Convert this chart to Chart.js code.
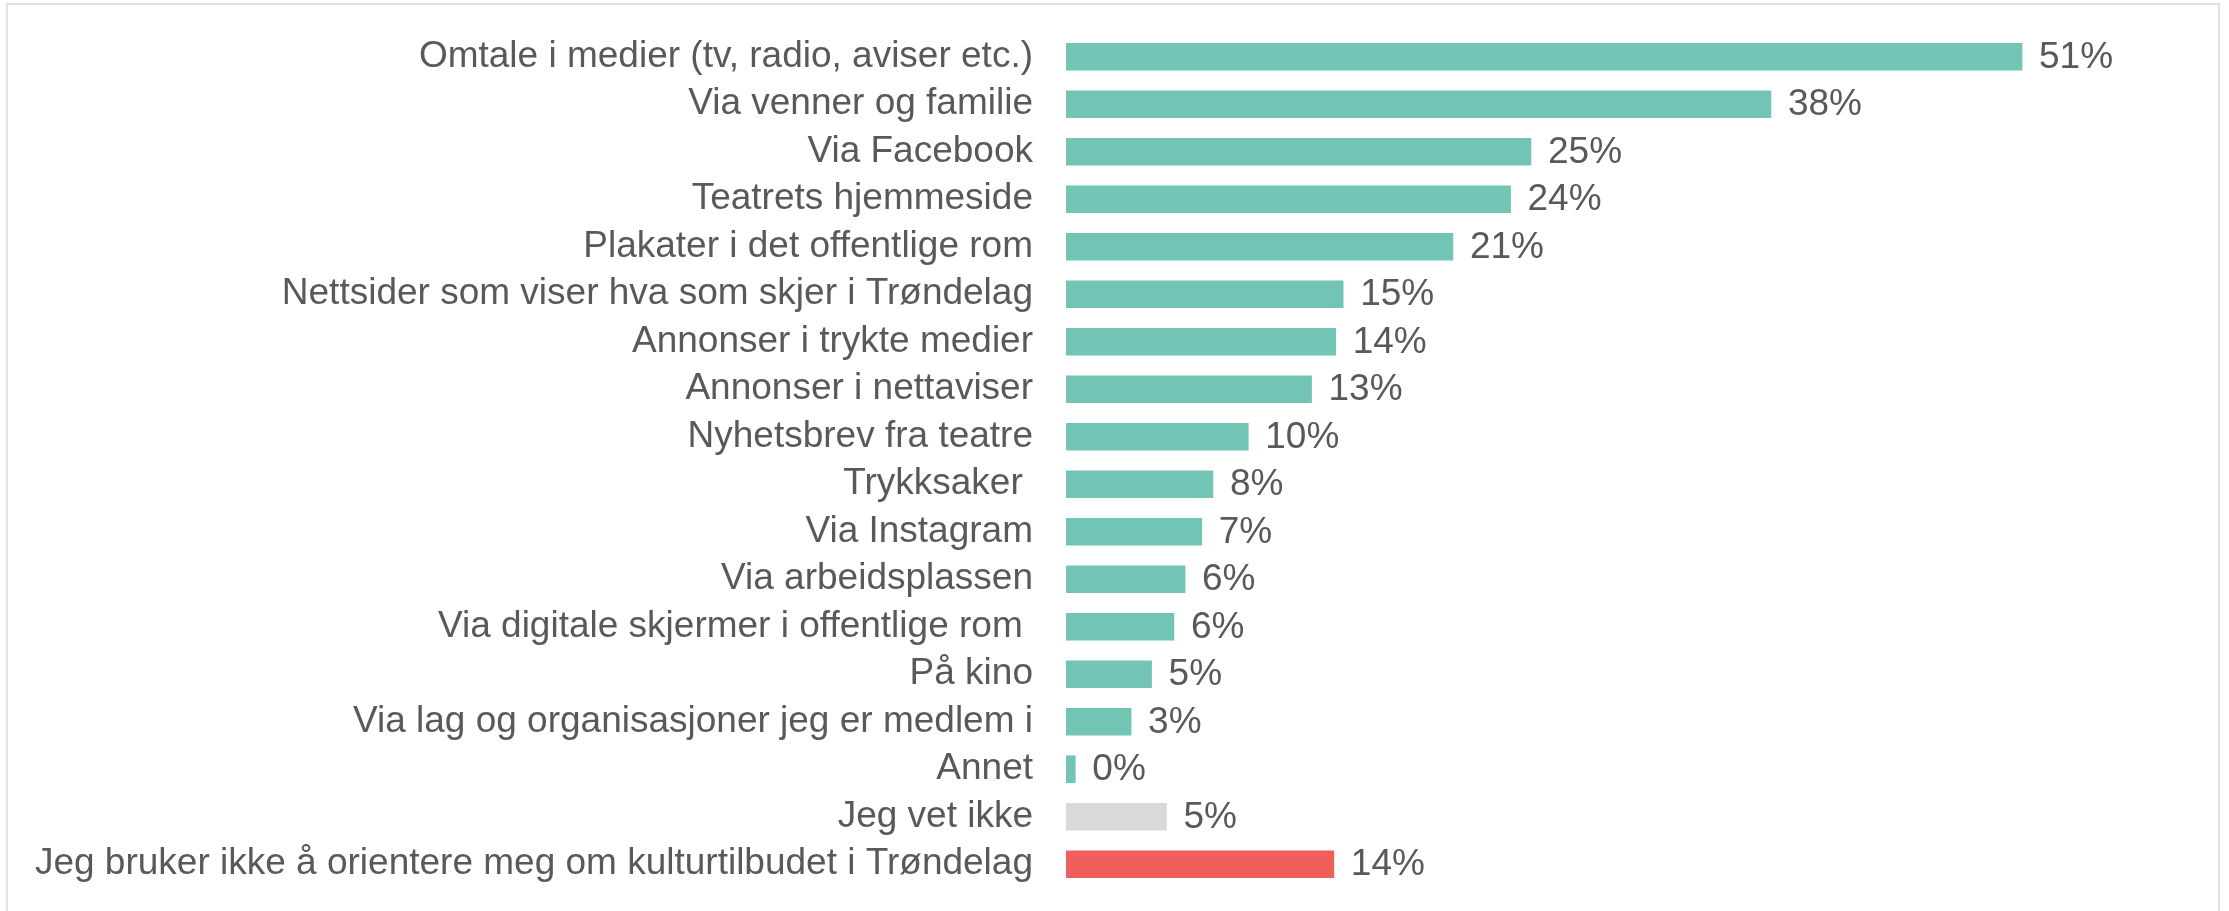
<!DOCTYPE html>
<html>
<head>
<meta charset="utf-8">
<script src="https://cdn.jsdelivr.net/npm/chart.js@4"></script>
<style>
  html, body { margin: 0; padding: 0; background: #fff; }
  #wrap { position: relative; width: 2229px; height: 911px; overflow: hidden; }
  #frame { position: absolute; left: 6px; top: 3px; width: 2214px; height: 1000px; border: 2px solid #e2e2e2; box-sizing: border-box; }
  canvas { position: absolute; left: 0; top: 0; }
</style>
</head>
<body>
<div id="wrap">
  <div id="frame"></div>
  <canvas id="chart" width="2229" height="911"></canvas>
</div>
<script>
const categories = [
  "Omtale i medier (tv, radio, aviser etc.)",
  "Via venner og familie",
  "Via Facebook",
  "Teatrets hjemmeside",
  "Plakater i det offentlige rom",
  "Nettsider som viser hva som skjer i Trøndelag",
  "Annonser i trykte medier",
  "Annonser i nettaviser",
  "Nyhetsbrev fra teatre",
  "Trykksaker ",
  "Via Instagram",
  "Via arbeidsplassen",
  "Via digitale skjermer i offentlige rom ",
  "På kino",
  "Via lag og organisasjoner jeg er medlem i",
  "Annet",
  "Jeg vet ikke",
  "Jeg bruker ikke å orientere meg om kulturtilbudet i Trøndelag"
];
// estimated bar lengths (percent)
const values = [51.4, 37.9, 25.0, 23.9, 20.8, 14.9, 14.5, 13.2, 9.8, 7.9, 7.3, 6.4, 5.8, 4.6, 3.5, 0.5, 5.4, 14.4];
// printed labels
const valueLabels = ["51%", "38%", "25%", "24%", "21%", "15%", "14%", "13%", "10%", "8%", "7%", "6%", "6%", "5%", "3%", "0%", "5%", "14%"];

const teal = "#72c4b4";
const grey = "#d9d9d9";
const red = "#f05f5b";
const barColors = categories.map((c, i) => i === 16 ? grey : (i === 17 ? red : teal));

const fontFamily = "'Liberation Sans', Arial, sans-serif";
const fontSize = 37;
const textColor = "#595959";

const valueLabelPlugin = {
  id: "valueLabels",
  afterDatasetsDraw(chart) {
    const ctx = chart.ctx;
    const meta = chart.getDatasetMeta(0);
    ctx.save();
    ctx.font = fontSize + "px " + fontFamily;
    ctx.fillStyle = textColor;
    ctx.textAlign = "left";
    ctx.textBaseline = "middle";
    meta.data.forEach((bar, i) => {
      ctx.fillText(valueLabels[i], bar.x + 17, bar.y + 1);
    });
    ctx.restore();
  }
};

new Chart(document.getElementById("chart"), {
  type: "bar",
  data: {
    labels: categories,
    datasets: [{
      data: values,
      backgroundColor: barColors,
      borderWidth: 0,
      barThickness: 27
    }]
  },
  options: {
    indexAxis: "y",
    responsive: false,
    animation: false,
    layout: { padding: { left: 0, right: 47, top: 33, bottom: 23 } },
    plugins: {
      legend: { display: false },
      tooltip: { enabled: false }
    },
    scales: {
      x: {
        display: false,
        min: 0,
        max: 60
      },
      y: {
        afterFit(scale) {
          scale.width = 1066;
          scale.paddingTop = 0;
          scale.paddingBottom = 0;
        },
        border: { display: false },
        grid: { display: false, drawTicks: false },
        ticks: {
          color: textColor,
          padding: 33,
          autoSkip: false,
          font: { family: fontFamily, size: fontSize }
        }
      }
    }
  },
  plugins: [valueLabelPlugin]
});
</script>
</body>
</html>
